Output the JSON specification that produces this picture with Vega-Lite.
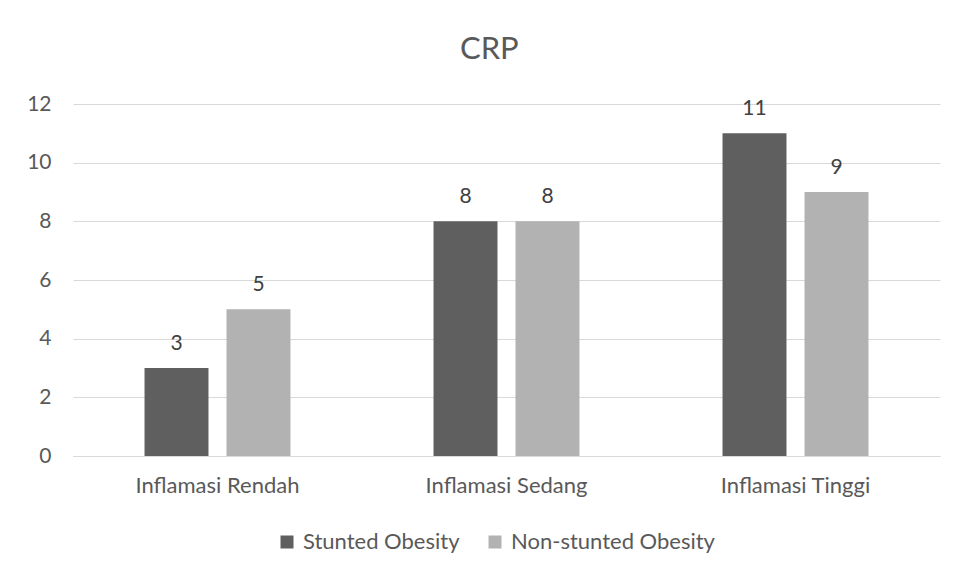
{
  "$schema": "https://vega.github.io/schema/vega-lite/v6.json",
  "width": 867,
  "height": 352,
  "autosize": {"type": "none"},
  "padding": {"left": 73, "top": 104, "right": 17, "bottom": 117},
  "background": "white",
  "title": {"text": "CRP", "fontSize": 31, "font": "Lato", "fontWeight": "normal", "color": "#595959", "offset": 27, "anchor": "middle", "frame": "bounds", "dx": 6},
  "config": {"view": {"stroke": null}, "font": "Lato"},
  "data": {"values": [
    {"kategori": "Inflamasi Rendah", "grup": "Stunted Obesity", "nilai": 3},
    {"kategori": "Inflamasi Rendah", "grup": "Non-stunted Obesity", "nilai": 5},
    {"kategori": "Inflamasi Sedang", "grup": "Stunted Obesity", "nilai": 8},
    {"kategori": "Inflamasi Sedang", "grup": "Non-stunted Obesity", "nilai": 8},
    {"kategori": "Inflamasi Tinggi", "grup": "Stunted Obesity", "nilai": 11},
    {"kategori": "Inflamasi Tinggi", "grup": "Non-stunted Obesity", "nilai": 9}
  ]},
  "encoding": {
    "x": {"field": "kategori", "type": "nominal", "sort": null,
      "scale": {"paddingInner": 0.495, "paddingOuter": 0.2475},
      "axis": {"title": null, "labelAngle": 0, "labelFontSize": 22, "labelColor": "#595959", "labelPadding": 19, "labelLimit": 300, "ticks": false, "domain": true, "domainColor": "#d9d9d9", "grid": false}},
    "xOffset": {"field": "grup", "type": "nominal", "sort": ["Stunted Obesity", "Non-stunted Obesity"],
      "scale": {"paddingInner": 0.22, "paddingOuter": 0}},
    "y": {"field": "nilai", "type": "quantitative",
      "scale": {"domain": [0, 12]},
      "axis": {"title": null, "values": [0, 2, 4, 6, 8, 10, 12], "labelFontSize": 21, "labelColor": "#595959", "labelPadding": 22, "ticks": false, "domain": false, "gridColor": "#d9d9d9", "gridWidth": 1}}
  },
  "layer": [
    {
      "mark": {"type": "bar"},
      "encoding": {
        "color": {"field": "grup", "type": "nominal", "sort": ["Stunted Obesity", "Non-stunted Obesity"],
          "scale": {"domain": ["Stunted Obesity", "Non-stunted Obesity"], "range": ["#5f5f5f", "#b2b2b2"]},
          "legend": {"title": null, "orient": "none", "direction": "horizontal", "legendX": 203, "legendY": 427,
            "symbolType": "square", "symbolSize": 169, "symbolStrokeWidth": 0, "labelFontSize": 22, "labelLimit": 400, "labelColor": "#595959", "columnPadding": 24, "labelOffset": 5}}
      }
    },
    {
      "mark": {"type": "text", "baseline": "alphabetic", "dy": -18, "fontSize": 21, "color": "#404040"},
      "encoding": {"text": {"field": "nilai", "type": "quantitative"}}
    }
  ]
}
